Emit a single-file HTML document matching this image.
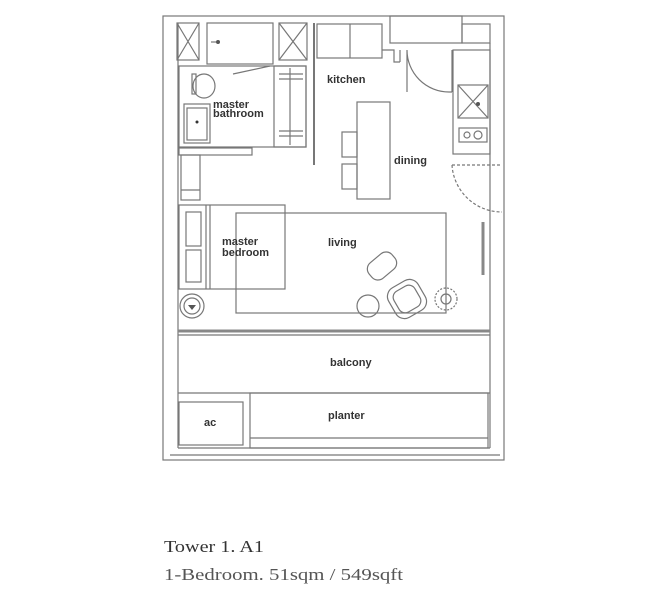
<!DOCTYPE html>
<html><head><style>
html,body{margin:0;padding:0;background:#fff;}
svg{display:block;}
.l{fill:none;stroke:#777;stroke-width:1.2}
.t{font-family:"Liberation Sans",sans-serif;font-size:11px;fill:#333;font-weight:bold}
</style></head><body>
<svg width="651" height="600" viewBox="0 0 651 600">
<!-- outer -->
<rect x="163" y="16" width="341" height="444" class="l" stroke-width="1.5"/>
<line x1="178" y1="23" x2="178" y2="448" class="l"/>
<line x1="490" y1="43" x2="490" y2="448" class="l"/>
<!-- top items -->
<rect x="177" y="23" width="22" height="37" class="l"/>
<path d="M177 23L199 60M199 23L177 60" class="l" stroke-width="0.8"/>
<rect x="207" y="23" width="66" height="41" class="l"/>
<circle cx="218" cy="42" r="2" fill="#555"/>
<line x1="211" y1="42" x2="216" y2="42" class="l"/>
<rect x="279" y="23" width="28" height="37" class="l"/>
<path d="M279 23L307 60M307 23L279 60" class="l" stroke-width="0.8"/>
<line x1="314" y1="23" x2="314" y2="165" stroke="#777" stroke-width="2"/>
<rect x="317" y="24" width="65" height="34" class="l"/>
<line x1="350" y1="24" x2="350" y2="58" class="l"/>
<rect x="390" y="16" width="72" height="27" class="l"/>
<rect x="462" y="24" width="28" height="19" class="l"/>
<path d="M382 50L394 50L394 62L400 62M400 50L400 62" class="l"/>
<path d="M407 50L407 92M407 50A42 42 0 0 0 449 92L452 92" class="l" stroke-width="0.9"/>
<line x1="452" y1="50" x2="452" y2="92" class="l"/>
<!-- kitchen counter -->
<rect x="453" y="50" width="37" height="104" class="l"/>
<rect x="458" y="85" width="30" height="33" class="l"/>
<path d="M458 85L488 118M488 85L458 118" class="l" stroke-width="0.7"/>
<circle cx="478" cy="104" r="2" fill="#555"/>
<rect x="459" y="128" width="28" height="14" class="l"/>
<circle cx="467" cy="135" r="3" class="l"/><circle cx="478" cy="135" r="4" class="l"/>
<!-- bathroom -->
<rect x="179" y="66" width="127" height="81" class="l"/>
<line x1="233" y1="74" x2="270" y2="66" class="l"/>
<rect x="274" y="66" width="32" height="81" class="l"/>
<line x1="290" y1="68" x2="290" y2="145" class="l"/>
<path d="M279 74h24M279 79h24M279 131h24M279 136h24" class="l" stroke-width="0.8"/>
<ellipse cx="204" cy="86" rx="11" ry="12" class="l"/>
<rect x="192" y="74" width="4" height="20" class="l"/>
<rect x="184" y="104" width="26" height="39" class="l"/>
<rect x="187" y="108" width="20" height="32" class="l"/>
<circle cx="197" cy="122" r="1.5" fill="#333"/>
<text class="t" x="213" y="108">master</text>
<text class="t" x="213" y="117">bathroom</text>
<text class="t" x="327" y="83">kitchen</text>
<!-- below bathroom -->
<rect x="179" y="148" width="73" height="7" class="l"/>
<rect x="181" y="155" width="19" height="45" class="l"/>
<line x1="181" y1="190" x2="200" y2="190" class="l"/>
<!-- island -->
<rect x="357" y="102" width="33" height="97" class="l"/>
<rect x="342" y="132" width="15" height="25" class="l"/>
<rect x="342" y="164" width="15" height="25" class="l"/>
<text class="t" x="394" y="164">dining</text>
<!-- right door -->
<path d="M452 165L502 165M452 165A50 50 0 0 0 502 212" class="l" stroke-dasharray="3 2" stroke-width="0.9"/>
<line x1="483" y1="222" x2="483" y2="275" stroke="#888" stroke-width="3"/>
<!-- rug -->
<rect x="236" y="213" width="210" height="100" class="l"/>
<!-- bed -->
<rect x="179" y="205" width="106" height="84" class="l" fill="#fff"/>
<line x1="210" y1="205" x2="210" y2="289" class="l"/>
<line x1="206" y1="205" x2="206" y2="289" class="l"/>
<rect x="186" y="212" width="15" height="34" class="l"/>
<rect x="186" y="250" width="15" height="32" class="l"/>
<text class="t" x="222" y="245">master</text>
<text class="t" x="222" y="256">bedroom</text>
<text class="t" x="328" y="246">living</text>
<circle cx="192" cy="306" r="12" class="l"/><circle cx="192" cy="306" r="8" class="l"/>
<path d="M188 305L196 305L192 310Z" fill="#555"/>
<!-- furniture -->
<rect x="367" y="256" width="30" height="20" rx="8" class="l" transform="rotate(-40 382 266)" stroke-width="1.5"/>
<rect x="390" y="282" width="34" height="34" rx="10" class="l" transform="rotate(-30 407 299)"/>
<rect x="395" y="287" width="24" height="24" rx="7" class="l" transform="rotate(-30 407 299)"/>
<circle cx="368" cy="306" r="11" class="l"/>
<circle cx="446" cy="299" r="11" class="l" stroke-dasharray="2 1.5"/>
<circle cx="446" cy="299" r="5" class="l"/>
<!-- balcony wall -->
<line x1="178" y1="331" x2="490" y2="331" stroke="#888" stroke-width="3"/>
<line x1="178" y1="335" x2="490" y2="335" class="l" stroke-width="0.6"/>
<text class="t" x="330" y="366">balcony</text>
<line x1="178" y1="393" x2="490" y2="393" class="l"/>
<rect x="179" y="402" width="64" height="43" class="l"/>
<rect x="250" y="393" width="238" height="55" class="l"/>
<line x1="250" y1="438" x2="488" y2="438" class="l"/>
<text class="t" x="204" y="426">ac</text>
<text class="t" x="328" y="419">planter</text>
<line x1="178" y1="448" x2="490" y2="448" class="l"/>
<line x1="170" y1="455" x2="500" y2="455" class="l" stroke-width="0.8"/>
<!-- caption -->
<text x="164" y="552" font-family="Liberation Serif,serif" font-size="17" fill="#333" textLength="100" lengthAdjust="spacingAndGlyphs">Tower 1. A1</text>
<text x="164" y="580" font-family="Liberation Serif,serif" font-size="17" fill="#555" textLength="239" lengthAdjust="spacingAndGlyphs">1-Bedroom. 51sqm / 549sqft</text>
</svg>
</body></html>
